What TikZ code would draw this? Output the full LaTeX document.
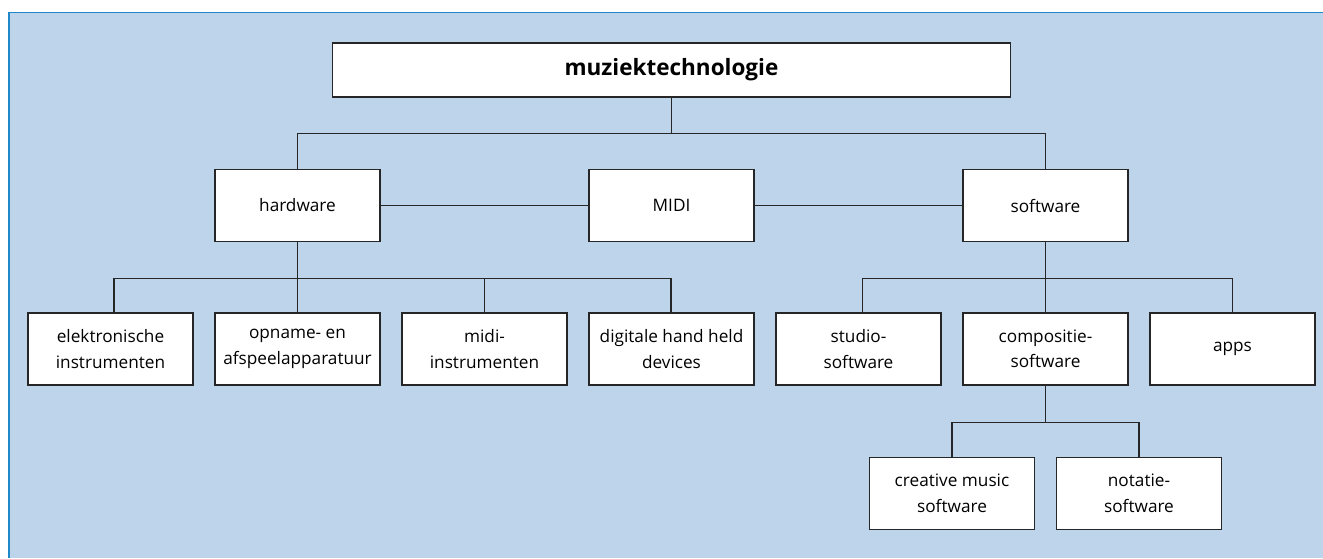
\documentclass[tikz,border=0pt]{standalone}
\usepackage{fontspec}
\setmainfont{Open Sans}
\begin{document}
\begin{tikzpicture}[x=1pt,y=-1pt,
  box/.style={draw=black!85,fill=white,line width=1.4pt,minimum width=165pt,minimum height=72pt,inner sep=0pt,align=center,text=black,font=\fontsize{17.2}{25.5}\selectfont},
  conn/.style={draw=black!85,line width=1.4pt}]
\definecolor{panel}{RGB}{190,212,235}
\definecolor{panelline}{RGB}{30,136,200}
\useasboundingbox (0,0) rectangle (1323,558);
\fill[panel] (9,12.7) rectangle (1323,558);
\draw[panelline,line width=1.2pt] (1323,12.7) -- (9,12.7) -- (9,558);
% nodes
\node[box,minimum width=678pt,minimum height=54pt,font=\fontsize{22.5}{26}\selectfont\bfseries] (root) at (671.5,70) {muziektechnologie};
\node[box] (hw) at (297.5,205.5) {hardware};
\node[box] (midi) at (671.5,205.5) {MIDI};
\node[box] (sw) at (1045.5,205.5) {software};
\node[box] (el) at (110.5,349) {elektronische\\instrumenten};
\node[box] (op) at (297.5,349) {opname- en\\afspeelapparatuur};
\node[box] (mi) at (484.5,349) {midi-\\instrumenten};
\node[box] (dg) at (671.5,349) {digitale hand held\\devices};
\node[box] (st) at (858.5,349) {studio-\\software};
\node[box] (co) at (1045.5,349) {compositie-\\software};
\node[box] (ap) at (1232.5,349) {apps};
\node[box] (cr) at (952,493.5) {creative music\\software};
\node[box] (no) at (1139,493.5) {notatie-\\software};
% junctions
\coordinate (j0) at (671.5,133.5);
\coordinate (j1) at (297.5,278.5);
\coordinate (j2) at (1045.5,278.5);
\coordinate (j3) at (1045.5,422.5);
% connectors
\draw[conn] (root.south) -- (j0);
\draw[conn] (hw.north) |- (j0) -| (sw.north);
\draw[conn] (hw.east) -- (midi.west);
\draw[conn] (midi.east) -- (sw.west);
\draw[conn] (hw.south) -- (j1);
\draw[conn] ([xshift=3.5pt]el.north) |- (j1) -| ([xshift=-0.5pt]dg.north);
\draw[conn] (op.north) -- (j1);
\draw[conn] (mi.north) -- (mi.north |- j1);
\draw[conn] (sw.south) -- (j2);
\draw[conn] ([xshift=4pt]st.north) |- (j2) -| (ap.north);
\draw[conn] (co.north) -- (j2);
\draw[conn] (co.south) -- (j3);
\draw[conn] (cr.north) |- (j3) -| (no.north);
\end{tikzpicture}
\end{document}
